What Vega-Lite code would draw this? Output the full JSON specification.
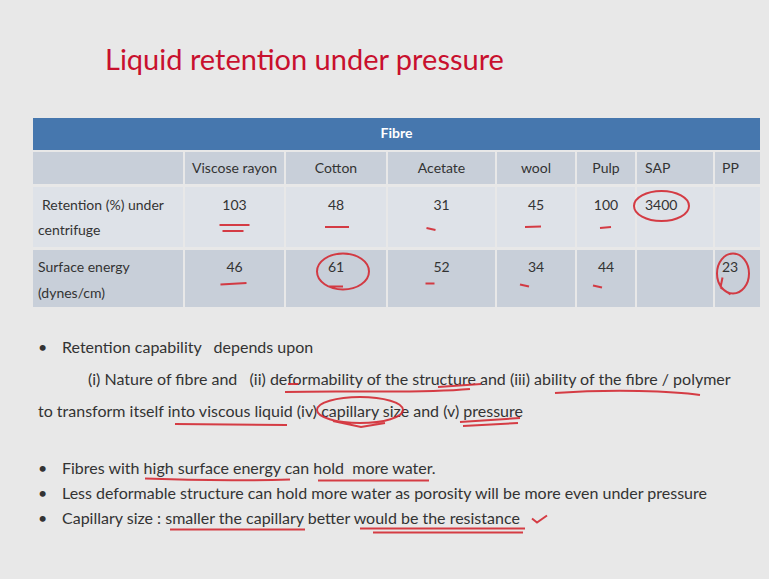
{
  "$schema": "https://vega.github.io/schema/vega-lite/v6.json",
  "background": "#e8e8e8",
  "padding": {"left": 33, "top": 29, "right": 9, "bottom": 54},
  "spacing": 25,
  "config": {
    "view": {"stroke": null},
    "text": {"font": "Lato", "fontSize": 14, "color": "#333333", "clip": true},
    "point": {"filled": false, "stroke": "#d42a33", "strokeWidth": 2, "opacity": 0.9, "size": 1600, "clip": true}
  },
  "datasets": {
    "slide": [{"title": "Liquid retention under pressure"}],
    "group": [{"group": "Fibre"}],
    "fibres": [
      {"fibre": "Viscose rayon"}, {"fibre": "Cotton"}, {"fibre": "Acetate"}, {"fibre": "wool"},
      {"fibre": "Pulp"}, {"fibre": "SAP"}, {"fibre": "PP"}
    ],
    "properties": [
      {"property": "Retention (%) under centrifuge", "line1": "Retention (%) under", "line2": "centrifuge"},
      {"property": "Surface energy (dynes/cm)", "line1": "Surface energy", "line2": "(dynes/cm)"}
    ],
    "table": [
      {"property": "Retention (%) under centrifuge", "fibre": "Viscose rayon", "value": 103},
      {"property": "Retention (%) under centrifuge", "fibre": "Cotton", "value": 48},
      {"property": "Retention (%) under centrifuge", "fibre": "Acetate", "value": 31},
      {"property": "Retention (%) under centrifuge", "fibre": "wool", "value": 45},
      {"property": "Retention (%) under centrifuge", "fibre": "Pulp", "value": 100},
      {"property": "Retention (%) under centrifuge", "fibre": "SAP", "value": 3400},
      {"property": "Surface energy (dynes/cm)", "fibre": "Viscose rayon", "value": 46},
      {"property": "Surface energy (dynes/cm)", "fibre": "Cotton", "value": 61},
      {"property": "Surface energy (dynes/cm)", "fibre": "Acetate", "value": 52},
      {"property": "Surface energy (dynes/cm)", "fibre": "wool", "value": 34},
      {"property": "Surface energy (dynes/cm)", "fibre": "Pulp", "value": 44},
      {"property": "Surface energy (dynes/cm)", "fibre": "PP", "value": 23}
    ],
    "notes": [
      {"para": 1, "line": 1, "kind": "bullet", "text": "Retention capability\u00a0\u00a0 depends upon"},
      {"para": 1, "line": 2, "kind": "sub", "text": "(i) Nature of fibre and\u00a0\u00a0 (ii) deformability of the structure and (iii) ability of the fibre / polymer"},
      {"para": 1, "line": 3, "kind": "cont", "text": "to transform itself into viscous liquid (iv) capillary size and (v) pressure"},
      {"para": 2, "line": 4, "kind": "bullet", "text": "Fibres with high surface energy can hold\u00a0 more water."},
      {"para": 2, "line": 5, "kind": "bullet", "text": "Less deformable structure can hold more water as porosity will be more even under pressure"},
      {"para": 2, "line": 6, "kind": "bullet", "text": "Capillary size : smaller the capillary better would be the resistance"}
    ]
  },
  "vconcat": [
    {
      "width": 727, "height": 64,
      "data": {"name": "slide"},
      "mark": {"type": "text", "align": "left", "baseline": "middle", "dx": 72, "fontSize": 29, "color": "#c8102e"},
      "encoding": {
        "x": {"datum": 0, "type": "quantitative", "scale": {"domain": [0, 1]}, "axis": null},
        "text": {"field": "title"}
      }
    },
    {
      "spacing": 2,
      "vconcat": [
        {
          "width": 727, "height": 32,
          "view": {"fill": "#4677ae"},
          "data": {"name": "group"},
          "mark": {"type": "text", "color": "white", "fontWeight": "bold", "fontSize": 14, "baseline": "middle"},
          "encoding": {"text": {"field": "group"}}
        },
        {
          "spacing": 2, "bounds": "flush",
          "hconcat": [
            {"width": 150, "height": 32, "view": {"fill": "#c8cfd9"},
             "data": {"name": "fibres"}, "transform": [{"filter": "datum.fibre == 'none'"}],
             "mark": {"type": "text"}, "encoding": {"text": {"field": "fibre"}}},
            {"width": 99, "height": 32, "view": {"fill": "#c8cfd9"},
             "data": {"name": "fibres"}, "transform": [{"filter": "datum.fibre == 'Viscose rayon'"}],
             "mark": {"type": "text", "dy": 1}, "encoding": {"text": {"field": "fibre"}}},
            {"width": 100, "height": 32, "view": {"fill": "#c8cfd9"},
             "data": {"name": "fibres"}, "transform": [{"filter": "datum.fibre == 'Cotton'"}],
             "mark": {"type": "text", "dy": 1}, "encoding": {"text": {"field": "fibre"}}},
            {"width": 107, "height": 32, "view": {"fill": "#c8cfd9"},
             "data": {"name": "fibres"}, "transform": [{"filter": "datum.fibre == 'Acetate'"}],
             "mark": {"type": "text", "dy": 1}, "encoding": {"text": {"field": "fibre"}}},
            {"width": 78, "height": 32, "view": {"fill": "#c8cfd9"},
             "data": {"name": "fibres"}, "transform": [{"filter": "datum.fibre == 'wool'"}],
             "mark": {"type": "text", "dy": 1}, "encoding": {"text": {"field": "fibre"}}},
            {"width": 58, "height": 32, "view": {"fill": "#c8cfd9"},
             "data": {"name": "fibres"}, "transform": [{"filter": "datum.fibre == 'Pulp'"}],
             "mark": {"type": "text", "dy": 1}, "encoding": {"text": {"field": "fibre"}}},
            {"width": 76, "height": 32, "view": {"fill": "#c8cfd9"},
             "data": {"name": "fibres"}, "transform": [{"filter": "datum.fibre == 'SAP'"}],
             "mark": {"type": "text", "dy": 1, "align": "left", "dx": 8},
             "encoding": {"x": {"datum": 0, "type": "quantitative", "scale": {"domain": [0, 1]}, "axis": null}, "text": {"field": "fibre"}}},
            {"width": 45, "height": 32, "view": {"fill": "#c8cfd9"},
             "data": {"name": "fibres"}, "transform": [{"filter": "datum.fibre == 'PP'"}],
             "mark": {"type": "text", "dy": 1, "align": "left", "dx": 7},
             "encoding": {"x": {"datum": 0, "type": "quantitative", "scale": {"domain": [0, 1]}, "axis": null}, "text": {"field": "fibre"}}}
          ]
        },
        {
          "spacing": 2, "bounds": "flush",
          "hconcat": [
            {"width": 150, "height": 60, "view": {"fill": "#dee2e8"},
             "data": {"name": "properties"}, "transform": [{"filter": "datum.property == 'Retention (%) under centrifuge'"}],
             "encoding": {"x": {"datum": 0, "type": "quantitative", "scale": {"domain": [0, 1]}, "axis": null}},
             "layer": [
               {"mark": {"type": "text", "align": "left", "dx": 9, "dy": -11}, "encoding": {"text": {"field": "line1"}}},
               {"mark": {"type": "text", "align": "left", "dx": 5, "dy": 14}, "encoding": {"text": {"field": "line2"}}}
             ]},
            {"width": 99, "height": 60, "view": {"fill": "#dee2e8"},
             "data": {"name": "table"}, "transform": [{"filter": "datum.property == 'Retention (%) under centrifuge' && datum.fibre == 'Viscose rayon'"}],
             "layer": [
               {"mark": {"type": "text", "dy": -11}, "encoding": {"text": {"field": "value", "type": "quantitative", "format": "d"}}},
               {"mark": {"type": "point", "shape": "M -0.75 0.4 L 0.75 0.4 M -0.6 0.7 L 0.45 0.7"}, "encoding": {}}
             ]},
            {"width": 100, "height": 60, "view": {"fill": "#dee2e8"},
             "data": {"name": "table"}, "transform": [{"filter": "datum.property == 'Retention (%) under centrifuge' && datum.fibre == 'Cotton'"}],
             "layer": [
               {"mark": {"type": "text", "dy": -11}, "encoding": {"text": {"field": "value", "type": "quantitative", "format": "d"}}},
               {"mark": {"type": "point", "shape": "M -0.55 0.5 L 0.65 0.5"}, "encoding": {}}
             ]},
            {"width": 107, "height": 60, "view": {"fill": "#dee2e8"},
             "data": {"name": "table"}, "transform": [{"filter": "datum.property == 'Retention (%) under centrifuge' && datum.fibre == 'Acetate'"}],
             "layer": [
               {"mark": {"type": "text", "dy": -11}, "encoding": {"text": {"field": "value", "type": "quantitative", "format": "d"}}},
               {"mark": {"type": "point", "shape": "M -0.75 0.55 L -0.3 0.65"}, "encoding": {}}
             ]},
            {"width": 78, "height": 60, "view": {"fill": "#dee2e8"},
             "data": {"name": "table"}, "transform": [{"filter": "datum.property == 'Retention (%) under centrifuge' && datum.fibre == 'wool'"}],
             "layer": [
               {"mark": {"type": "text", "dy": -11}, "encoding": {"text": {"field": "value", "type": "quantitative", "format": "d"}}},
               {"mark": {"type": "point", "shape": "M -0.55 0.5 L 0.25 0.48"}, "encoding": {}}
             ]},
            {"width": 58, "height": 60, "view": {"fill": "#dee2e8"},
             "data": {"name": "table"}, "transform": [{"filter": "datum.property == 'Retention (%) under centrifuge' && datum.fibre == 'Pulp'"}],
             "layer": [
               {"mark": {"type": "text", "dy": -11}, "encoding": {"text": {"field": "value", "type": "quantitative", "format": "d"}}},
               {"mark": {"type": "point", "shape": "M -0.3 0.55 L 0.25 0.5"}, "encoding": {}}
             ]},
            {"width": 76, "height": 60, "view": {"fill": "#dee2e8"},
             "data": {"name": "table"}, "transform": [{"filter": "datum.property == 'Retention (%) under centrifuge' && datum.fibre == 'SAP'"}],
             "layer": [
               {"mark": {"type": "text", "dy": -11, "align": "left", "dx": 8},
                "encoding": {"x": {"datum": 0, "type": "quantitative", "scale": {"domain": [0, 1]}, "axis": null}, "text": {"field": "value", "type": "quantitative", "format": "d"}}},
               {"mark": {"type": "point", "shape": "M -2.05 -0.55 A 1.375 0.75 0 1 1 0.7 -0.55 A 1.375 0.75 0 1 1 -2.05 -0.55"}, "encoding": {}}
             ]},
            {"width": 45, "height": 60, "view": {"fill": "#dee2e8"},
             "data": {"name": "table"}, "transform": [{"filter": "datum.property == 'Retention (%) under centrifuge' && datum.fibre == 'PP'"}],
             "mark": {"type": "text", "dy": -11, "align": "left", "dx": 7},
             "encoding": {"x": {"datum": 0, "type": "quantitative", "scale": {"domain": [0, 1]}, "axis": null}, "text": {"field": "value", "type": "quantitative", "format": "d"}}}
          ]
        },
        {
          "spacing": 2, "bounds": "flush",
          "hconcat": [
            {"width": 150, "height": 57, "view": {"fill": "#c8cfd9"},
             "data": {"name": "properties"}, "transform": [{"filter": "datum.property == 'Surface energy (dynes/cm)'"}],
             "encoding": {"x": {"datum": 0, "type": "quantitative", "scale": {"domain": [0, 1]}, "axis": null}},
             "layer": [
               {"mark": {"type": "text", "align": "left", "dx": 5, "dy": -11}, "encoding": {"text": {"field": "line1"}}},
               {"mark": {"type": "text", "align": "left", "dx": 5, "dy": 15}, "encoding": {"text": {"field": "line2"}}}
             ]},
            {"width": 99, "height": 57, "view": {"fill": "#c8cfd9"},
             "data": {"name": "table"}, "transform": [{"filter": "datum.property == 'Surface energy (dynes/cm)' && datum.fibre == 'Viscose rayon'"}],
             "layer": [
               {"mark": {"type": "text", "dy": -11}, "encoding": {"text": {"field": "value", "type": "quantitative", "format": "d"}}},
               {"mark": {"type": "point", "shape": "M -0.7 0.3 L 0.6 0.22"}, "encoding": {}}
             ]},
            {"width": 100, "height": 57, "view": {"fill": "#c8cfd9"},
             "data": {"name": "table"}, "transform": [{"filter": "datum.property == 'Surface energy (dynes/cm)' && datum.fibre == 'Cotton'"}],
             "layer": [
               {"mark": {"type": "text", "dy": -11}, "encoding": {"text": {"field": "value", "type": "quantitative", "format": "d"}}},
               {"mark": {"type": "point", "shape": "M -0.35 0.4 L 0.35 0.4 M -0.95 -0.35 A 1.3 0.9 0 1 1 1.65 -0.35 A 1.3 0.9 0 1 1 -0.95 -0.35"}, "encoding": {}}
             ]},
            {"width": 107, "height": 57, "view": {"fill": "#c8cfd9"},
             "data": {"name": "table"}, "transform": [{"filter": "datum.property == 'Surface energy (dynes/cm)' && datum.fibre == 'Acetate'"}],
             "layer": [
               {"mark": {"type": "text", "dy": -11}, "encoding": {"text": {"field": "value", "type": "quantitative", "format": "d"}}},
               {"mark": {"type": "point", "shape": "M -0.8 0.25 L -0.35 0.25"}, "encoding": {}}
             ]},
            {"width": 78, "height": 57, "view": {"fill": "#c8cfd9"},
             "data": {"name": "table"}, "transform": [{"filter": "datum.property == 'Surface energy (dynes/cm)' && datum.fibre == 'wool'"}],
             "layer": [
               {"mark": {"type": "text", "dy": -11}, "encoding": {"text": {"field": "value", "type": "quantitative", "format": "d"}}},
               {"mark": {"type": "point", "shape": "M -0.8 0.3 L -0.35 0.4"}, "encoding": {}}
             ]},
            {"width": 58, "height": 57, "view": {"fill": "#c8cfd9"},
             "data": {"name": "table"}, "transform": [{"filter": "datum.property == 'Surface energy (dynes/cm)' && datum.fibre == 'Pulp'"}],
             "layer": [
               {"mark": {"type": "text", "dy": -11}, "encoding": {"text": {"field": "value", "type": "quantitative", "format": "d"}}},
               {"mark": {"type": "point", "shape": "M -0.65 0.35 L -0.2 0.45"}, "encoding": {}}
             ]},
            {"width": 76, "height": 57, "view": {"fill": "#c8cfd9"},
             "data": {"name": "table"}, "transform": [{"filter": "datum.property == 'Surface energy (dynes/cm)' && datum.fibre == 'SAP'"}],
             "mark": {"type": "text", "dy": -11, "align": "left", "dx": 8},
             "encoding": {"x": {"datum": 0, "type": "quantitative", "scale": {"domain": [0, 1]}, "axis": null}, "text": {"field": "value", "type": "quantitative", "format": "d"}}},
            {"width": 45, "height": 57, "view": {"fill": "#c8cfd9"},
             "data": {"name": "table"}, "transform": [{"filter": "datum.property == 'Surface energy (dynes/cm)' && datum.fibre == 'PP'"}],
             "layer": [
               {"mark": {"type": "text", "dy": -11, "align": "left", "dx": 7},
                "encoding": {"x": {"datum": 0, "type": "quantitative", "scale": {"domain": [0, 1]}, "axis": null}, "text": {"field": "value", "type": "quantitative", "format": "d"}}},
               {"mark": {"type": "point", "shape": "M -1.025 -0.25 A 0.8 1.0 0 1 1 0.575 -0.25 A 0.8 1.0 0 1 1 -1.025 -0.25 M -0.85 0.45 L -0.35 0.8 M -0.85 0.45 L -0.75 -0.05"}, "encoding": {}}
             ]}
          ]
        }
      ]
    },
    {
      "width": 727, "height": 96,
      "data": {"name": "notes"},
      "transform": [{"filter": "datum.para == 1"}],
      "encoding": {
        "y": {"field": "line", "type": "ordinal", "scale": {"type": "point", "padding": 0.5}, "axis": null},
        "x": {"datum": 0, "type": "quantitative", "scale": {"domain": [0, 1]}, "axis": null}
      },
      "layer": [
        {"transform": [{"filter": "datum.kind == 'bullet'"}], "mark": {"type": "text", "align": "left", "dx": 5, "fontSize": 16}, "encoding": {"text": {"value": "•"}}},
        {"transform": [{"filter": "datum.kind == 'bullet'"}], "mark": {"type": "text", "align": "left", "dx": 29, "fontSize": 16}, "encoding": {"text": {"field": "text"}}},
        {"transform": [{"filter": "datum.kind == 'sub'"}], "mark": {"type": "text", "align": "left", "dx": 55, "fontSize": 16}, "encoding": {"text": {"field": "text"}}},
        {"transform": [{"filter": "datum.kind == 'cont'"}], "mark": {"type": "text", "align": "left", "dx": 5, "fontSize": 16}, "encoding": {"text": {"field": "text"}}},
        {"transform": [{"filter": "datum.line == 2"}], "mark": {"type": "point", "size": 4,
          "shape": "M 252 12 C 320 10 380 14 437 9 M 405 7 L 448 4 M 255 4 L 265 4 M 522 13 C 580 9 640 11 667 15"}, "encoding": {}},
        {"transform": [{"filter": "datum.line == 3"}], "mark": {"type": "point", "size": 4,
          "shape": "M 142 12 L 254 13 M 284 -2 A 43 13 0 1 1 370 -2 A 43 13 0 1 1 284 -2 M 300 9 L 328 15 L 352 11 M 427 10 L 487 6 M 430 14 L 485 11"}, "encoding": {}}
      ]
    },
    {
      "width": 727, "height": 75,
      "data": {"name": "notes"},
      "transform": [{"filter": "datum.para == 2"}],
      "encoding": {
        "y": {"field": "line", "type": "ordinal", "scale": {"type": "point", "padding": 0.5}, "axis": null},
        "x": {"datum": 0, "type": "quantitative", "scale": {"domain": [0, 1]}, "axis": null}
      },
      "layer": [
        {"mark": {"type": "text", "align": "left", "dx": 5, "fontSize": 16}, "encoding": {"text": {"value": "•"}}},
        {"mark": {"type": "text", "align": "left", "dx": 29, "fontSize": 16}, "encoding": {"text": {"field": "text"}}},
        {"transform": [{"filter": "datum.line == 4"}], "mark": {"type": "point", "size": 4,
          "shape": "M 112 10 C 160 12 220 12 257 11 M 285 12 L 396 12"}, "encoding": {}},
        {"transform": [{"filter": "datum.line == 6"}], "mark": {"type": "point", "size": 4,
          "shape": "M 137 11 L 272 11 M 327 10 L 492 10 M 340 14 L 490 14 M 499 0 L 504 4 L 514 -3"}, "encoding": {}}
      ]
    }
  ]
}
